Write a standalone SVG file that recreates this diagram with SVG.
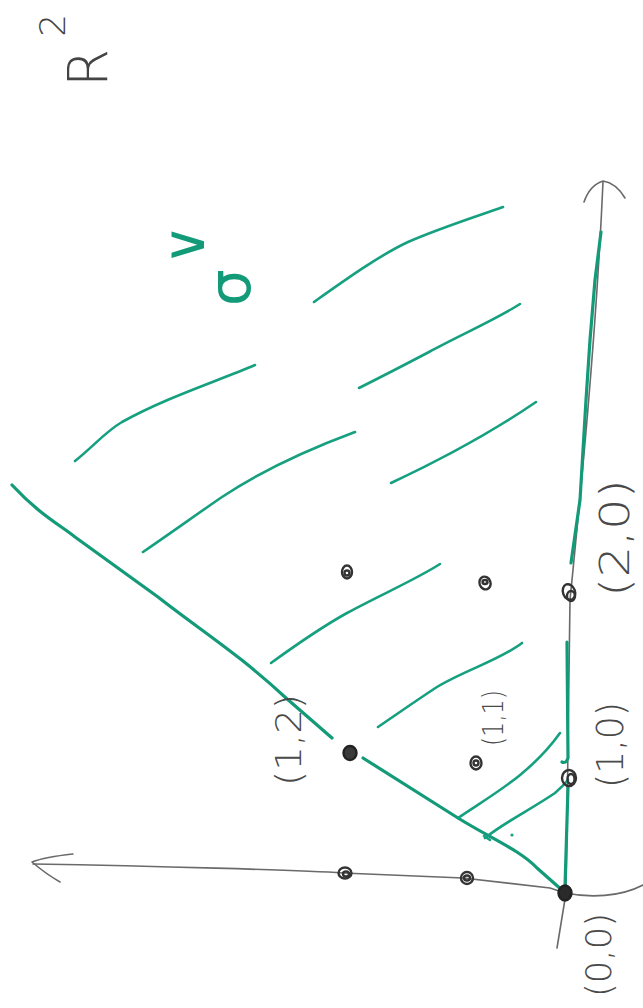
<svg xmlns="http://www.w3.org/2000/svg" width="643" height="1008" viewBox="0 0 643 1008">
  <style>
    .axis { fill: none; stroke: #6a6a6a; stroke-width: 1.6; stroke-linecap: round; stroke-linejoin: round; }
    .cone { fill: none; stroke: #139a78; stroke-width: 3.2; stroke-linecap: round; stroke-linejoin: round; }
    .hatch { fill: none; stroke: #16a080; stroke-width: 2.6; stroke-linecap: round; }
    .pt { fill: none; stroke: #333; stroke-width: 2.4; }
    .lbl { font-family: "DejaVu Sans", "Liberation Sans", sans-serif; font-weight: 200; fill: #4a4a4a; text-anchor: middle; }
  </style>
  <rect width="643" height="1008" fill="#ffffff"/>

  <g id="connectors">
    <path class="axis" d="M603,182 C 596,340 580,500 570,600 L566,893 L557,948"/>
    <path class="axis" d="M584,202 Q590,185 603,181 Q616,183 625,198"/>
    <path class="axis" d="M33,864 C 150,866 300,870 343,873 L463,878 L550,888 L565,893 C 590,898 620,897 643,885"/>
    <path class="axis" d="M73,854 Q45,857 32,862 Q46,874 60,882"/>
    <path class="cone" d="M601,232 L595,280 L590,340 L586,400 L580,500 L571,563"/>
    <path class="cone" d="M567,642 L568,758 Q566,764 562,762"/>
    <path class="cone" stroke="#1e7a63" d="M568,787 L565,887"/>
    <path class="cone" d="M12,485 C 40,515 60,525 75,537 L158,597 C 200,630 240,655 286,698 L332,738"/>
    <path class="cone" d="M363,758 L458,818 C 490,838 520,850 537,868 L563,891"/>
  </g>

  <g id="hatching">
    <path class="hatch" d="M314,302 C 345,280 380,255 408,242 C 440,228 475,217 503,207"/>
    <path class="hatch" d="M359,388 C 385,375 410,362 429,352 C 460,335 495,320 520,304"/>
    <path class="hatch" d="M75,461 C 95,445 105,432 122,422 C 165,398 215,382 255,365"/>
    <path class="hatch" d="M391,483 C 440,460 495,430 536,402"/>
    <path class="hatch" d="M143,552 C 175,530 200,512 222,497 C 270,465 320,445 355,432"/>
    <path class="hatch" d="M271,663 C 300,642 320,628 347,613 C 380,595 415,580 440,564"/>
    <path class="hatch" d="M378,727 C 400,712 420,698 437,687 C 465,670 500,660 522,643"/>
    <path class="hatch" d="M458,818 C 490,796 530,775 560,733"/>
    <path class="hatch" d="M485,838 C 505,822 530,810 555,793 Q563,786 568,780"/>
    <path class="hatch" stroke-width="4" d="M484,836 L490,840"/>
    <circle cx="512" cy="835" r="1.6" fill="#16a080"/>
  </g>

  <g id="pt-0-0">
    <ellipse cx="565" cy="893" rx="6.5" ry="7.5" fill="#2a2a2a" stroke="#222" stroke-width="2.4"/>
    <text class="lbl" font-size="36" transform="translate(598,955) rotate(-90)" dy="0.35em" textLength="84" lengthAdjust="spacingAndGlyphs">(0,0)</text>
  </g>
  <g id="pt-1-0">
    <ellipse class="pt" cx="569" cy="778" rx="7" ry="8"/>
    <ellipse class="pt" cx="571" cy="779" rx="3.5" ry="5"/>
    <text class="lbl" font-size="38" transform="translate(610,745) rotate(-90)" dy="0.35em" textLength="86" lengthAdjust="spacingAndGlyphs">(1,0)</text>
  </g>
  <g id="pt-2-0">
    <ellipse class="pt" cx="569" cy="592" rx="6" ry="8" transform="rotate(-20 569 592)"/>
    <ellipse class="pt" cx="571" cy="596" rx="4" ry="5"/>
    <text class="lbl" font-size="40" transform="translate(615,538) rotate(-90)" dy="0.35em" textLength="118" lengthAdjust="spacingAndGlyphs">(2,0)</text>
  </g>
  <g id="pt-0-1">
    <ellipse class="pt" cx="467" cy="878" rx="6" ry="6"/>
    <ellipse class="pt" cx="467" cy="878" rx="3" ry="2.5"/>
  </g>
  <g id="pt-0-2">
    <ellipse class="pt" cx="345" cy="873" rx="6.5" ry="5.5"/>
    <ellipse class="pt" cx="346" cy="874" rx="3" ry="2.5"/>
  </g>
  <g id="pt-1-1">
    <ellipse class="pt" cx="476" cy="763" rx="5.5" ry="6.5"/>
    <ellipse class="pt" cx="476" cy="763" rx="2.5" ry="2.5"/>
    <text class="lbl" font-size="28" transform="translate(493,718) rotate(-90)" dy="0.35em" textLength="56" lengthAdjust="spacingAndGlyphs">(1,1)</text>
  </g>
  <g id="pt-1-2">
    <ellipse cx="350" cy="753" rx="6.5" ry="7" fill="#3a3a3a" stroke="#222" stroke-width="2.4"/>
    <text class="lbl" font-size="36" transform="translate(288,740) rotate(-90)" dy="0.35em" textLength="92" lengthAdjust="spacingAndGlyphs">(1,2)</text>
  </g>
  <g id="pt-2-1">
    <ellipse class="pt" cx="485" cy="583" rx="5.5" ry="6.5" transform="rotate(-20 485 583)"/>
    <ellipse class="pt" cx="485" cy="582" rx="2.5" ry="2"/>
  </g>
  <g id="pt-2-2">
    <ellipse class="pt" cx="347" cy="572" rx="5" ry="6.5"/>
    <ellipse class="pt" cx="347" cy="573" rx="2.5" ry="2.5"/>
  </g>

  <g id="label-sigma">
    <text font-family="DejaVu Sans, sans-serif" font-size="58" fill="#139a78" transform="translate(250,306) rotate(-90)">σ<tspan font-size="56" dx="4" dy="-46">∨</tspan></text>
  </g>
  <g id="label-R2">
    <text font-family="DejaVu Sans, sans-serif" font-weight="200" font-size="55" fill="#444" transform="translate(107,87) rotate(-90)">R<tspan font-size="36" dx="12" dy="-42">2</tspan></text>
  </g>
</svg>
